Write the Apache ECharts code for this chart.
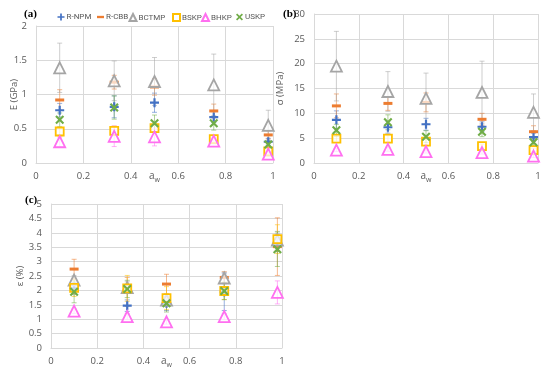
<!DOCTYPE html>
<html>
<head>
<meta charset="utf-8">
<script src="https://cdn.jsdelivr.net/npm/echarts@6/dist/echarts.min.js"></script>
<style>html,body{margin:0;padding:0;background:#fff}#c{width:550px;height:375px}</style>
</head>
<body>
<div id="c"></div>
<script>
// ---------- data ----------
const names = ['R-NPM', 'R-CBB', 'BCTMP', 'BSKP', 'BHKP', 'USKP'];
const aw = [0.1, 0.33, 0.5, 0.75, 0.98];
const xTicks = [0, 0.2, 0.4, 0.6, 0.8, 1];

// (a) E (GPa)
const E_RNPM = [0.77, 0.82, 0.88, 0.67, 0.31];
const E_RNPM_err = [0.10, 0.16, 0.14, 0.08, 0.05];
const E_RCBB = [0.92, 1.18, 1.11, 0.76, 0.41];
const E_RCBB_err = [0.15, 0.10, 0.12, 0.10, 0.06];
const E_BCTMP = [1.39, 1.20, 1.19, 1.14, 0.55];
const E_BCTMP_err = [0.36, 0.29, 0.35, 0.45, 0.22];
const E_BSKP = [0.46, 0.47, 0.51, 0.35, 0.17];
const E_BSKP_err = [0.05, 0.07, 0.05, 0.04, 0.04];
const E_BHKP = [0.31, 0.39, 0.38, 0.32, 0.13];
const E_BHKP_err = [0.07, 0.15, 0.13, 0.04, 0.03];
const E_USKP = [0.63, 0.81, 0.58, 0.58, 0.27];
const E_USKP_err = [0.10, 0.17, 0.12, 0.10, 0.05];

// (b) sigma (MPa)
const S_RNPM = [8.7, 7.2, 7.8, 7.3, 5.2];
const S_RNPM_err = [1.8, 1.2, 1.2, 1.0, 0.8];
const S_RCBB = [11.5, 12.0, 12.2, 8.8, 6.3];
const S_RCBB_err = [2.4, 1.4, 1.9, 1.2, 1.2];
const S_BCTMP = [19.5, 14.4, 13.0, 14.2, 10.2];
const S_BCTMP_err = [7.0, 4.0, 5.1, 6.3, 3.7];
const S_BSKP = [4.9, 4.9, 4.3, 3.4, 2.6];
const S_BSKP_err = [0.5, 0.6, 0.6, 0.4, 0.4];
const S_BHKP = [2.6, 2.75, 2.3, 2.1, 1.4];
const S_BHKP_err = [0.3, 0.4, 0.3, 0.3, 0.3];
const S_USKP = [6.6, 8.2, 5.3, 6.3, 4.2];
const S_USKP_err = [1.2, 1.5, 1.2, 1.0, 0.7];

// (c) epsilon (%)
const P_RNPM = [2.07, 1.47, 1.55, 1.95, 3.65];
const P_RNPM_err = [0.20, 0.20, 0.25, 0.65, 0.30];
const P_RCBB = [2.74, 1.95, 2.22, 2.45, 3.52];
const P_RCBB_err = [0.34, 0.50, 0.34, 0.20, 1.00];
const P_BCTMP = [2.36, 2.10, 1.66, 2.43, 3.75];
const P_BCTMP_err = [0.15, 0.20, 0.20, 0.20, 0.30];
const P_BSKP = [2.09, 2.07, 1.73, 1.98, 3.78];
const P_BSKP_err = [0.30, 0.45, 0.40, 0.30, 0.50];
const P_BHKP = [1.28, 1.09, 0.91, 1.09, 1.93];
const P_BHKP_err = [0.08, 0.10, 0.08, 0.10, 0.40];
const P_USKP = [1.95, 2.05, 1.55, 1.98, 3.43];
const P_USKP_err = [0.38, 0.30, 0.30, 0.30, 0.60];

// ---------- styling ----------
const colors = ['#4472C4', '#ED7D31', '#A5A5A5', '#FFC000', '#FF6FF0', '#70AD47'];
const plusPath = 'path://M3.4,0H5.6V3.4H9V5.6H5.6V9H3.4V5.6H0V3.4H3.4Z';
const xPath = 'path://M1.5,0L4.5,3L7.5,0L9,1.5L6,4.5L9,7.5L7.5,9L4.5,6L1.5,9L0,7.5L3,4.5L0,1.5Z';
const dashPath = 'path://M0,0H9V3H0Z';
const symbols = [
  { symbol: plusPath, size: 9, hollow: false },
  { symbol: 'rect', size: [9, 3], hollow: false, icon: dashPath },
  { symbol: 'triangle', size: 11, hollow: true },
  { symbol: 'rect', size: 8, hollow: true },
  { symbol: 'triangle', size: 11, hollow: true },
  { symbol: xPath, size: 9, hollow: false }
];
const legendLeft = [57.5, 97, 128.5, 172, 201, 236];
const FONT = 'Open Sans';
const LBL = '#595959';
const GRID_C = '#D9D9D9';

const panels = [
  { vals: [E_RNPM, E_RCBB, E_BCTMP, E_BSKP, E_BHKP, E_USKP],
    errs: [E_RNPM_err, E_RCBB_err, E_BCTMP_err, E_BSKP_err, E_BHKP_err, E_USKP_err],
    grid: { left: 36, top: 26, width: 237, height: 137 },
    y: { min: 0, max: 2, interval: 0.5, name: 'E (GPa)', nameGap: 17 } },
  { vals: [S_RNPM, S_RCBB, S_BCTMP, S_BSKP, S_BHKP, S_USKP],
    errs: [S_RNPM_err, S_RCBB_err, S_BCTMP_err, S_BSKP_err, S_BHKP_err, S_USKP_err],
    grid: { left: 314, top: 14, width: 224, height: 149 },
    y: { min: 0, max: 30, interval: 5, name: 'σ (MPa)', nameGap: 29 } },
  { vals: [P_RNPM, P_RCBB, P_BCTMP, P_BSKP, P_BHKP, P_USKP],
    errs: [P_RNPM_err, P_RCBB_err, P_BCTMP_err, P_BSKP_err, P_BHKP_err, P_USKP_err],
    grid: { left: 51, top: 204, width: 231, height: 144 },
    y: { min: 0, max: 5, interval: 0.5, name: 'ε (%)', nameGap: 26 } }
];

const grids = [], xAxes = [], yAxes = [], series = [];
panels.forEach((p, pi) => {
  grids.push(Object.assign({ containLabel: false }, p.grid));
  xAxes.push({
    type: 'value', gridIndex: pi, min: xTicks[0], max: xTicks[xTicks.length - 1],
    interval: xTicks[1] - xTicks[0],
    name: '{a|a}{w|w}', nameLocation: 'middle', nameGap: 7, nameMoveOverlap: false,
    nameTextStyle: {
      color: LBL, fontFamily: FONT,
      rich: {
        a: { fontSize: 10, lineHeight: 13, verticalAlign: 'middle', color: LBL, fontFamily: FONT },
        w: { fontSize: 7, lineHeight: 7, verticalAlign: 'bottom', color: LBL, fontFamily: FONT }
      }
    },
    axisLine: { show: true, lineStyle: { color: GRID_C } },
    axisTick: { show: false },
    axisLabel: { color: LBL, fontSize: 9.5, fontFamily: FONT, margin: 8 },
    splitLine: { show: true, lineStyle: { color: GRID_C } }
  });
  yAxes.push({
    type: 'value', gridIndex: pi, min: p.y.min, max: p.y.max, interval: p.y.interval,
    name: p.y.name, nameLocation: 'middle', nameGap: p.y.nameGap, nameRotate: 90,
    nameMoveOverlap: false,
    nameTextStyle: { color: LBL, fontSize: 9.5, fontFamily: FONT },
    axisLine: { show: true, lineStyle: { color: GRID_C } },
    axisTick: { show: false },
    axisLabel: { color: LBL, fontSize: 9.5, fontFamily: FONT, margin: 9 },
    splitLine: { show: true, lineStyle: { color: GRID_C } }
  });
  // error bars
  names.forEach((nm, si) => {
    const c = colors[si];
    series.push({
      type: 'custom', name: nm + ' err', xAxisIndex: pi, yAxisIndex: pi, z: 2,
      silent: true,
      encode: { x: 0, y: [1, 2] },
      data: aw.map((x, i) => [x, p.vals[si][i] - p.errs[si][i], p.vals[si][i] + p.errs[si][i]]),
      renderItem: function (params, api) {
        const x = api.value(0);
        const lo = api.coord([x, api.value(1)]);
        const hi = api.coord([x, api.value(2)]);
        const w = 2.5;
        const st = { stroke: c, lineWidth: 1, opacity: 0.55 };
        return {
          type: 'group', children: [
            { type: 'line', shape: { x1: lo[0], y1: lo[1], x2: hi[0], y2: hi[1] }, style: st },
            { type: 'line', shape: { x1: lo[0] - w, y1: lo[1], x2: lo[0] + w, y2: lo[1] }, style: st },
            { type: 'line', shape: { x1: hi[0] - w, y1: hi[1], x2: hi[0] + w, y2: hi[1] }, style: st }
          ]
        };
      }
    });
  });
  // markers
  names.forEach((nm, si) => {
    const s = symbols[si], c = colors[si];
    series.push({
      type: 'scatter', name: nm, xAxisIndex: pi, yAxisIndex: pi, z: 3 + si,
      symbol: s.symbol, symbolSize: s.size,
      itemStyle: s.hollow
        ? { color: 'rgba(255,255,255,0.7)', borderColor: c, borderWidth: 1.8, opacity: 1 }
        : { color: c, opacity: 1 },
      data: aw.map((x, i) => [x, p.vals[si][i]])
    });
  });
});

const legends = names.map((nm, i) => ({
  data: [symbols[i].icon ? { name: nm, icon: symbols[i].icon } : nm],
  left: legendLeft[i], top: 13, padding: 0, itemWidth: 7, itemHeight: 7,
  selectedMode: false,
  textStyle: { color: LBL, fontSize: 8, fontFamily: 'Roboto', padding: [0, 0, 0, -3] }
}));

const chart = echarts.init(document.getElementById('c'), null, { renderer: 'canvas' });
chart.setOption({
  animation: false,
  backgroundColor: '#fff',
  title: [
    { text: '(a)', left: 19, top: 4, textStyle: { fontFamily: 'Liberation Serif', fontWeight: 'bold', fontSize: 11, color: '#000' } },
    { text: '(b)', left: 278, top: 4, textStyle: { fontFamily: 'Liberation Serif', fontWeight: 'bold', fontSize: 11, color: '#000' } },
    { text: '(c)', left: 20, top: 190, textStyle: { fontFamily: 'Liberation Serif', fontWeight: 'bold', fontSize: 11, color: '#000' } }
  ],
  legend: legends,
  grid: grids, xAxis: xAxes, yAxis: yAxes, series: series
});
</script>
</body>
</html>
